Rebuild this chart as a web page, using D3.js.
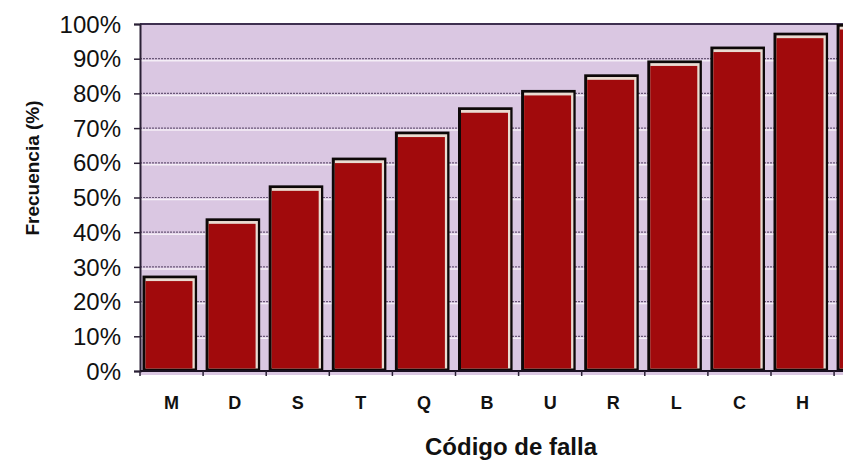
<!DOCTYPE html>
<html>
<head>
<meta charset="utf-8">
<style>
  body { margin: 0; background: #fff; }
  svg { display: block; font-family: "Liberation Sans", Arial, sans-serif; }
</style>
</head>
<body>
<svg width="843" height="460"></svg>
<script src="https://cdnjs.cloudflare.com/ajax/libs/d3/7.8.5/d3.min.js"></script>
<script>

  // Pareto: frecuencia acumulada por codigo de falla (la ultima barra queda cortada en el borde)
  var codes = ["M", "D", "S", "T", "Q", "B", "U", "R", "L", "C", "H", "O"];
  var freq = [27.5, 44, 53.5, 61.5, 69, 76, 81, 85.5, 89.5, 93.5, 97.5, 100];
  var yTicks = [0, 10, 20, 30, 40, 50, 60, 70, 80, 90, 100];

  var svg = d3.select("svg"),
    width = +svg.attr("width"),
    margin = {top: 24, left: 140},
    plotH = 347,
    step = 63.1,
    g = svg.append("g").attr("transform", "translate(" + margin.left + "," + margin.top + ")");

  var x = d3.scaleBand().domain(codes).range([0, step * codes.length]).padding(0);
  var y = d3.scaleLinear().domain([0, 100]).range([plotH, 0]);
  var plotW = step * codes.length;

  // fondo
  g.append("rect")
    .attr("x", 0).attr("y", 0)
    .attr("width", plotW).attr("height", plotH + 4)
    .attr("fill", "#dac7e2");

  // lineas de cuadricula: punteada oscura + linea clara debajo
  var grid = g.append("g");
  grid.selectAll("line.w").data(yTicks.slice(1, -1)).enter().append("line")
    .attr("class", "w")
    .attr("x1", 0).attr("x2", plotW)
    .attr("y1", function (d) { return y(d) + 2; })
    .attr("y2", function (d) { return y(d) + 2; })
    .attr("stroke", "#f4eef6").attr("stroke-width", 1.5);
  grid.selectAll("line.d").data(yTicks.slice(1, -1)).enter().append("line")
    .attr("class", "d")
    .attr("x1", 0).attr("x2", plotW)
    .attr("y1", function (d) { return y(d); })
    .attr("y2", function (d) { return y(d); })
    .attr("stroke", "#6a5878").attr("stroke-width", 1.2)
    .attr("stroke-dasharray", "2,1");

  // borde superior
  g.append("line")
    .attr("x1", 0).attr("x2", plotW)
    .attr("y1", 0).attr("y2", 0)
    .attr("stroke", "#3e3050").attr("stroke-width", 2);

  // barras
  var bw = x.bandwidth() * 0.865;
  var bars = g.selectAll("g.bar").data(codes).enter().append("g").attr("class", "bar");
  bars.append("rect")
    .attr("x", function (d) { return x(d) + 2.5; })
    .attr("y", function (d, i) { return y(freq[i]); })
    .attr("width", bw)
    .attr("height", function (d, i) { return plotH - y(freq[i]); })
    .attr("fill", "#0d0808");
  bars.append("rect")
    .attr("x", function (d) { return x(d) + 5.5; })
    .attr("y", function (d, i) { return y(freq[i]) + 2.7; })
    .attr("width", bw - 5.3)
    .attr("height", function (d, i) { return plotH - y(freq[i]) - 5.2; })
    .attr("fill", "#eadcd2");
  bars.append("rect")
    .attr("x", function (d) { return x(d) + 5.5; })
    .attr("y", function (d, i) { return y(freq[i]) + 5.5; })
    .attr("width", bw - 7.6)
    .attr("height", function (d, i) { return plotH - y(freq[i]) - 8; })
    .attr("fill", "#a10a0c");

  // eje y
  var yAxis = g.append("g")
    .call(d3.axisLeft(y).tickValues(yTicks).tickSize(6).tickPadding(13)
      .tickFormat(function (d) { return d + "%"; }));
  yAxis.select(".domain").attr("stroke", "#2a2035").attr("stroke-width", 2);
  yAxis.selectAll(".tick line").attr("stroke", "#2a2035").attr("stroke-width", 1.5);
  yAxis.selectAll("text")
    .attr("font-size", "24px").attr("fill", "#111")
    .attr("font-family", "Liberation Sans, Arial, sans-serif")
    .attr("dy", "0.34em");

  // eje x
  var xAxis = g.append("g").attr("transform", "translate(0," + plotH + ")");
  xAxis.append("line")
    .attr("x1", 0).attr("x2", plotW)
    .attr("stroke", "#1a1020").attr("stroke-width", 2);
  xAxis.selectAll("line.tk").data(codes).enter().append("line")
    .attr("class", "tk")
    .attr("x1", function (d) { return x(d); })
    .attr("x2", function (d) { return x(d); })
    .attr("y1", 0).attr("y2", 5)
    .attr("stroke", "#2a2035").attr("stroke-width", 1.5);
  // solo las etiquetas que caben dentro de la imagen
  var visible = codes.filter(function (d) {
    return margin.left + x(d) + x.bandwidth() / 2 + 10 < width;
  });
  xAxis.selectAll("text").data(visible).enter().append("text")
    .attr("x", function (d) { return x(d) + x.bandwidth() / 2; })
    .attr("y", 38)
    .attr("text-anchor", "middle")
    .attr("font-size", "18px").attr("font-weight", "bold").attr("fill", "#111")
    .text(function (d) { return d; });

  // titulos
  svg.append("text")
    .attr("x", 511).attr("y", 455)
    .attr("text-anchor", "middle")
    .attr("font-size", "24px").attr("font-weight", "bold").attr("fill", "#111")
    .text("Código de falla");

  svg.append("text")
    .attr("transform", "translate(39,168) rotate(-90)")
    .attr("text-anchor", "middle")
    .attr("font-size", "19px").attr("font-weight", "bold").attr("fill", "#111")
    .text("Frecuencia (%)");

</script>
</body>
</html>
